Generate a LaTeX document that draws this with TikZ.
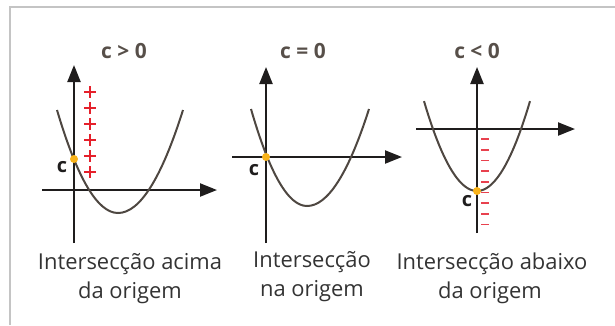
\documentclass[tikz,border=0pt]{standalone}
\usepackage{fontspec}
\setmainfont{Open Sans}
\usetikzlibrary{arrows.meta}
\definecolor{frameclr}{HTML}{C4C4C4}
\definecolor{axisclr}{HTML}{1F1D1D}
\definecolor{curveclr}{HTML}{4E4741}
\definecolor{titleclr}{HTML}{574F49}
\definecolor{capclr}{HTML}{333333}
\definecolor{dotclr}{HTML}{F9B31A}
\definecolor{plusclr}{HTML}{E5202B}
\definecolor{minusclr}{HTML}{E8414E}
\begin{document}
\begin{tikzpicture}[x=1bp,y=-1bp,
 axisline/.style={draw=axisclr, line width=2.2bp, -{Triangle[length=17bp,width=13bp]}},
 parab/.style={draw=curveclr, line width=2bp},
 titletext/.style={font=\fontsize{21}{24}\selectfont\bfseries, text=titleclr, inner sep=0, anchor=base},
 clabel/.style={font=\fontsize{20}{22}\selectfont\bfseries, text=axisclr, inner sep=0},
 captext/.style={font=\fontsize{22}{26}\selectfont, text=capclr, inner sep=0, anchor=base},
 dotmark/.style={circle, fill=dotclr, minimum size=8bp, inner sep=0},
 plusmark/.style={draw=plusclr, line width=2.1bp},
 minusmark/.style={draw=minusclr, line width=1.6bp}]
\useasboundingbox (0,0) rectangle (615,325);
\draw[frameclr, line width=1.5bp] (10,325) -- (10,7) -- (615,7);

% ---------- graph 1: c > 0 ----------
\coordinate (y1s) at (74,243); \coordinate (y1e) at (74,65);
\coordinate (x1s) at (42,190); \coordinate (x1e) at (217,190);
\draw[axisline] (y1s) -- (y1e);
\draw[axisline] (x1s) -- (x1e);
\draw[parab] (57,110) .. controls (77.33,178.67) and (97.67,213) .. (118,213)
                      .. controls (139.67,213) and (161.33,178.67) .. (183,110);
\foreach \yy in {92,108,124,140,156,172}
  \draw[plusmark] (84,\yy) -- (96,\yy) (90,{\yy-6}) -- (90,{\yy+6});
\node[dotmark] (d1) at (74,159) {};
\node[clabel] (c1) at (62,167.5) {c};
\node[titletext] (t1) at (124,58) {c > 0};
\node[captext] (cap1a) at (130,269) {Intersecção acima};
\node[captext] (cap1b) at (130,298) {da origem};

% ---------- graph 2: c = 0 ----------
\coordinate (y2s) at (266,243); \coordinate (y2e) at (266,67);
\coordinate (x2s) at (232,157); \coordinate (x2e) at (402,157);
\draw[axisline] (y2s) -- (y2e);
\draw[axisline] (x2s) -- (x2e);
\draw[parab] (251,109) .. controls (269.67,173.67) and (288.33,206) .. (307,206)
                       .. controls (327.67,206) and (348.33,173.67) .. (369,109);
\node[dotmark] (d2) at (266,157) {};
\node[clabel] (c2) at (254,170.5) {c};
\node[titletext] (t2) at (303,58) {c = 0};
\node[captext] (cap2a) at (312,267) {Intersecção};
\node[captext] (cap2b) at (312,296) {na origem};

% ---------- graph 3: c < 0 ----------
\coordinate (y3s) at (477,233); \coordinate (y3e) at (477,67);
\coordinate (x3s) at (416,129); \coordinate (x3e) at (575,129);
\draw[axisline] (y3s) -- (y3e);
\draw[axisline] (x3s) -- (x3e);
\draw[parab] plot[domain=424:530, samples=60] (\x, {191-0.032*(\x-477)*(\x-477)});
\foreach \i in {0,...,8}
  \draw[minusmark] (481,{139+10.7*\i}) -- (489,{139+10.7*\i});
\node[dotmark] (d3) at (477,191) {};
\node[clabel] (c3) at (467,201.5) {c};
\node[titletext] (t3) at (477,58) {c < 0};
\node[captext] (cap3a) at (492,269) {Intersecção abaixo};
\node[captext] (cap3b) at (490,298) {da origem};
\end{tikzpicture}
\end{document}
